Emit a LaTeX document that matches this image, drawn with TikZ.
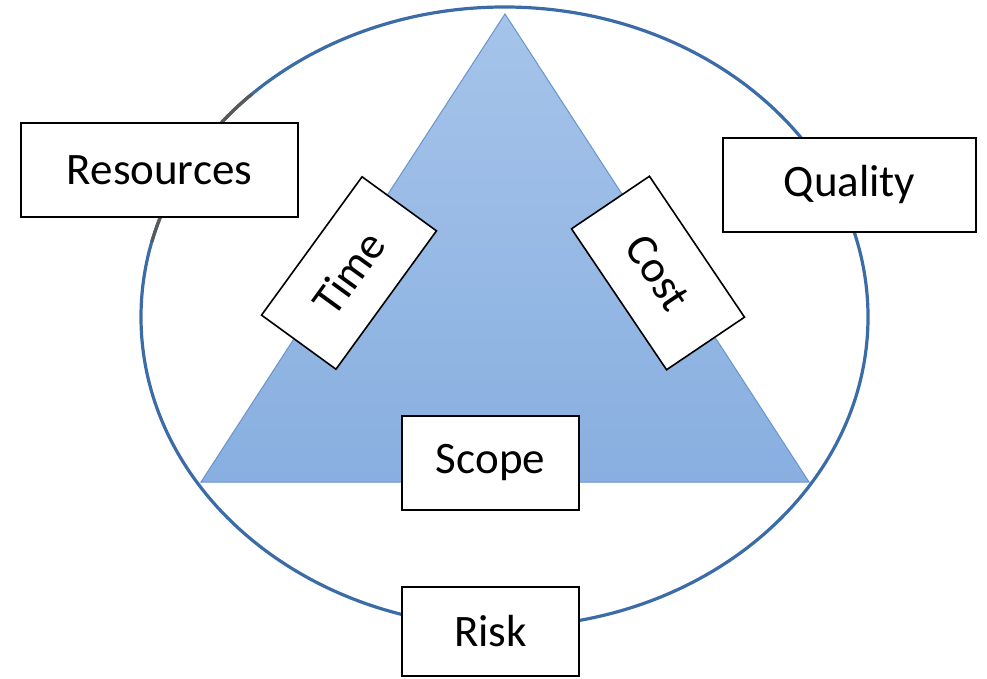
\documentclass[tikz,border=0pt]{standalone}
\usepackage{fontspec}
\setmainfont{Carlito}
\usetikzlibrary{calc}
\definecolor{ringblue}{RGB}{59,108,168}
\definecolor{tritop}{RGB}{166,196,234}
\definecolor{tribot}{RGB}{136,175,224}
\definecolor{triedge}{RGB}{104,148,204}

\begin{document}
\begin{tikzpicture}[x=1pt,y=1pt,
   lbl/.style={draw=black, line width=1.6pt, fill=white, inner sep=0pt,
      font=\fontsize{45}{54}\selectfont}]
   \useasboundingbox (0,0) rectangle (987,678);

   % ring
   \coordinate (c) at (504.5,361);
   \draw[ringblue, line width=3.2pt] (c) ellipse [x radius=363.5, y radius=310];
   \draw[gray!70!black, line width=3.2pt] ($(c)+(134:363.5 and 310)$) arc[start angle=134, end angle=141, x radius=363.5, y radius=310];
   \draw[gray!70!black, line width=3.2pt] ($(c)+(161:363.5 and 310)$) arc[start angle=161, end angle=166, x radius=363.5, y radius=310];

   % triangle
   \coordinate (t_top) at (505,664);
   \coordinate (t_left) at (201,196);
   \coordinate (t_right) at (809,196);
   \path[draw=triedge, line width=1pt, top color=tritop, bottom color=tribot]
      (t_top) -- (t_left) -- (t_right) -- cycle;

   % boxes
   \node[lbl, minimum width=277, minimum height=94] (res) at (159.5,508) {Resources};
   \node[lbl, minimum width=253, minimum height=94] (qual) at (849.5,493) {Quality};

   \node[lbl, minimum width=171, minimum height=92, rotate=54] (time) at (349,405) {Time};
   \node[lbl, minimum width=170, minimum height=94, rotate=-56] (cost) at (658,405) {Cost};

   \node[lbl, minimum width=177, minimum height=94] (scope) at (490.5,215) {Scope};
   \node[lbl, minimum width=177, minimum height=89] (risk) at (490.5,46.5) {Risk};

\end{tikzpicture}
\end{document}
